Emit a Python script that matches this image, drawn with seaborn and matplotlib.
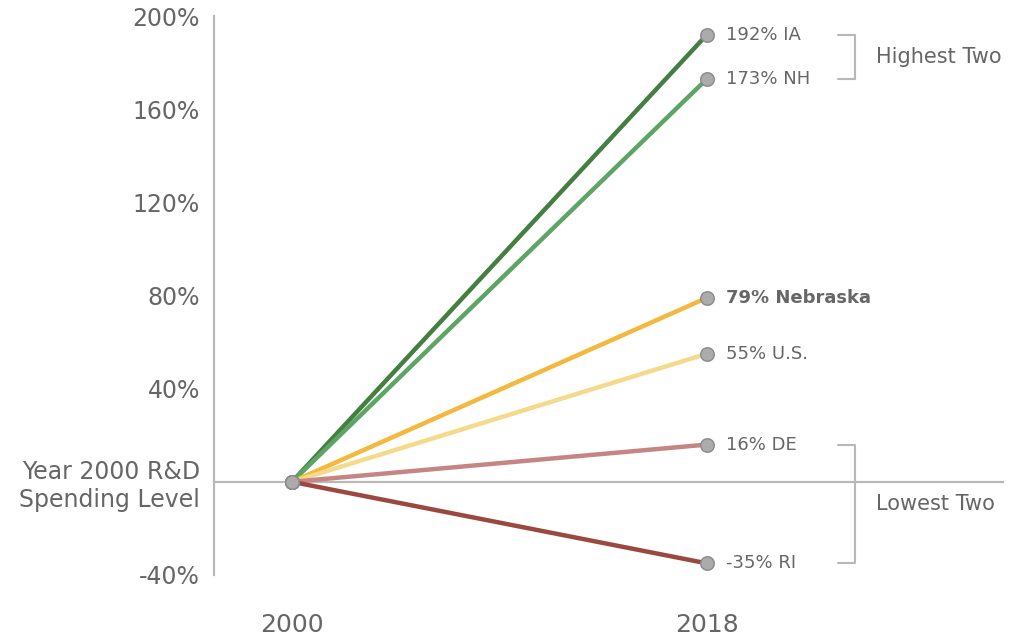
import pandas as pd
import matplotlib.pyplot as plt
import seaborn as sns

years = ["2000", "2018"]
states = ["IA", "NH", "Nebraska", "U.S.", "DE", "RI"]
growth_2018 = [192, 173, 79, 55, 16, -35]
end_labels = ["192% IA", "173% NH", "79% Nebraska", "55% U.S.", "16% DE", "-35% RI"]
line_colors = ["#447f42", "#5ea465", "#f3b83d", "#f5da8c", "#c48583", "#9b4841"]
y_ticks = [-40, 0, 40, 80, 120, 160, 200]
y_tick_labels = ["-40%", "Year 2000 R&D\nSpending Level", "40%", "80%", "120%", "160%", "200%"]

rows = []
for s, v in zip(states, growth_2018):
    rows.append({"state": s, "year": 0, "value": 0})
    rows.append({"state": s, "year": 1, "value": v})
df = pd.DataFrame(rows)

sns.set_style("white")
plt.rcParams['font.family'] = ['DejaVu Sans']
text_col = "#666666"
grey = "#b8b8b8"

fig = plt.figure(figsize=(10.21, 6.37), dpi=100)
ax = fig.add_axes([214 / 1021, 62 / 637, 790 / 1021, 559 / 637])

ax.axhline(0, color=grey, lw=1.6, zorder=1)

sns.lineplot(data=df, x="year", y="value", hue="state", hue_order=states,
             palette=dict(zip(states, line_colors)), linewidth=3.2,
             legend=False, ax=ax, zorder=2)
ax.scatter([0] * len(states) + [1] * len(states), [0] * len(states) + growth_2018,
           s=95, color="#ababab", edgecolor="#8a8a8a", linewidth=1, zorder=5)

for lab, v in zip(end_labels, growth_2018):
    ax.annotate(lab, (1, v), xytext=(14, 0), textcoords="offset points",
                va="center", ha="left", fontsize=13, color=text_col,
                fontweight="bold" if "Nebraska" in lab else "normal")

# brackets
bx0, bx1 = 1.316, 1.357
for top, bot in [(192, 173), (16, -35)]:
    ax.plot([bx0, bx1, bx1, bx0], [top, top, bot, bot], color=grey, lw=1.5, clip_on=False)
ax.text(1.407, 182.5, "Highest Two", va="center", ha="left", fontsize=15, color=text_col)
ax.text(1.407, -9.5, "Lowest Two", va="center", ha="left", fontsize=15, color=text_col)

ax.set_xlim(-0.188, 1.716)
ax.set_ylim(-40, 200)
ax.set_xticks([0, 1])
ax.set_xticklabels(years)
ax.set_yticks(y_ticks)
ax.set_yticklabels(y_tick_labels)
ax.tick_params(axis="x", length=0, pad=27, labelsize=18, labelcolor=text_col)
ax.tick_params(axis="y", length=0, pad=10, labelsize=17, labelcolor=text_col)
ax.set_xlabel("")
ax.set_ylabel("")

for side in ["top", "right", "bottom"]:
    ax.spines[side].set_visible(False)
ax.spines["left"].set_color(grey)
ax.spines["left"].set_linewidth(1.6)

fig.savefig("out.png", dpi=100)
